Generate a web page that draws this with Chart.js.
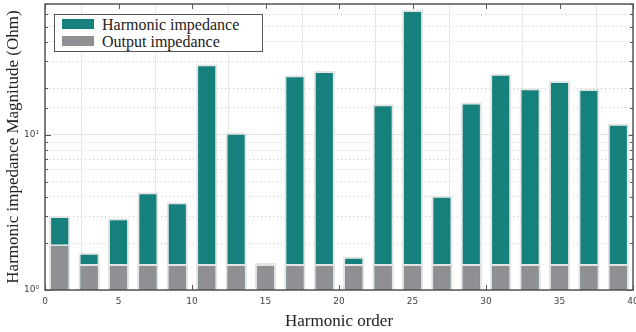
<!DOCTYPE html>
<html>
<head>
<meta charset="utf-8">
<script src="https://cdn.jsdelivr.net/npm/chart.js@4.4.1/dist/chart.umd.min.js"></script>
<style>
  html, body { margin: 0; padding: 0; background: #fff; }
  #wrap { position: relative; width: 636px; height: 332px; overflow: hidden; }
  #legend {
    position: absolute; left: 54px; top: 14px; width: 207px; height: 35px;
    border: 1px solid #555; background: #fff;
    font-family: "Liberation Serif", serif; font-size: 16px; color: #222;
    padding-top: 1px;
  }
  #legend div { height: 17px; line-height: 17px; white-space: nowrap; }
  #legend span.sw { display: inline-block; width: 32px; height: 10px; margin: 0 8px 0 7px; vertical-align: 1px; }
</style>
</head>
<body>
<div id="wrap">
  <canvas id="chart" width="636" height="332"></canvas>
  <div id="legend">
    <div><span class="sw" style="background:#16807d"></span>Harmonic impedance</div>
    <div><span class="sw" style="background:#8f9094"></span>Output impedance</div>
  </div>
</div>
<script>
// harmonic orders (odd harmonics 1..39)
const orders = [1, 3, 5, 7, 9, 11, 13, 15, 17, 19, 21, 23, 25, 27, 29, 31, 33, 35, 37, 39]
// impedance magnitudes in Ohm
const harmonicImp = [3.0, 1.74, 2.9, 4.27, 3.68, 28.6, 10.35, 1.5, 24.3, 25.9, 1.64, 15.8, 64, 4.06, 16.2, 24.8, 20.0, 22.3, 19.8, 11.8]
const outputImp = [1.97, 1.47, 1.47, 1.47, 1.47, 1.47, 1.47, 1.47, 1.47, 1.47, 1.47, 1.47, 1.47, 1.47, 1.47, 1.47, 1.47, 1.47, 1.47, 1.47]

const teal = '#16807d'
const gray = '#8f9094'
const edge = '#e4e4e4'

// matlab style box with inward ticks
const boxPlugin = {
  id: 'box',
  beforeDatasetsDraw(chart) {
    const { ctx, chartArea: a, scales } = chart
    ctx.save()
    ctx.strokeStyle = '#555'
    ctx.lineWidth = 1
    ctx.beginPath()
    scales.x.ticks.forEach(t => {
      const px = Math.round(scales.x.getPixelForValue(t.value)) + 0.5
      ctx.moveTo(px, a.top); ctx.lineTo(px, a.top + 5)
      ctx.moveTo(px, a.bottom); ctx.lineTo(px, a.bottom - 5)
    })
    scales.y.ticks.forEach(t => {
      const py = Math.round(scales.y.getPixelForValue(t.value)) + 0.5
      const len = (t.value === 1 || t.value === 10) ? 6 : 3
      ctx.moveTo(a.left, py); ctx.lineTo(a.left + len, py)
      ctx.moveTo(a.right, py); ctx.lineTo(a.right - len, py)
    })
    ctx.stroke()
    ctx.restore()
  },
  afterDatasetsDraw(chart) {
    const { ctx, chartArea: a } = chart
    ctx.save()
    ctx.strokeStyle = '#555'
    ctx.lineWidth = 1.5
    ctx.strokeRect(a.left, a.top, a.right - a.left, a.bottom - a.top)
    ctx.restore()
  }
}

const ctx = document.getElementById('chart')
new Chart(ctx, {
  type: 'bar',
  data: {
    datasets: [
      {
        label: 'Harmonic impedance',
        data: orders.map((h, i) => ({ x: h, y: harmonicImp[i] })),
        backgroundColor: teal,
        borderColor: edge,
        borderWidth: 2,
        grouped: false,
        order: 2,
      },
      {
        label: 'Output impedance',
        data: orders.map((h, i) => ({ x: h, y: outputImp[i] })),
        backgroundColor: gray,
        borderColor: edge,
        borderWidth: 2,
        grouped: false,
        order: 1,
      },
    ],
  },
  options: {
    responsive: false,
    animation: false,
    barPercentage: 0.72,
    categoryPercentage: 1,
    layout: { padding: { top: 4, right: 3, left: 0, bottom: 0 } },
    plugins: {
      legend: { display: false },
      tooltip: { enabled: false },
    },
    scales: {
      x: {
        type: 'linear',
        min: 0,
        max: 40,
        offset: false,
        ticks: {
          stepSize: 5,
          padding: 6,
          color: '#444',
          font: { family: 'DejaVu Sans', size: 9 },
          maxRotation: 0,
        },
        grid: { color: '#e6e6e6', lineWidth: 1, drawTicks: false },
        border: { display: false },
        title: {
          display: true,
          text: 'Harmonic order',
          color: '#222',
          font: { family: 'Liberation Serif', size: 17 },
          padding: { top: 0, bottom: 0 },
        },
        afterFit(scale) {
          scale.height = 42
          scale.paddingLeft = 0
          scale.paddingRight = 0
        },
      },
      y: {
        type: 'logarithmic',
        min: 1,
        max: 70,
        ticks: {
          autoSkip: false,
          padding: 6,
          color: '#444',
          font: { family: 'DejaVu Sans', size: 9 },
          callback: v => (v === 1 ? '10\u2070' : v === 10 ? '10\u00b9' : ''),
        },
        grid: {
          color: c => (c.tick && (c.tick.value === 1 || c.tick.value === 10) ? '#e2e2e2' : '#c8c8c8'),
          lineWidth: 1,
          drawTicks: false,
        },
        border: {
          display: false,
          dash: c => (c.tick && (c.tick.value === 1 || c.tick.value === 10) ? [] : [1, 3]),
        },
        title: {
          display: true,
          text: 'Harmonic impedance Magnitude (Ohm)',
          color: '#222',
          font: { family: 'Liberation Serif', size: 17 },
          padding: { top: 3, bottom: 0 },
        },
        afterFit(scale) {
          scale.width = 45
          scale.paddingTop = 0
          scale.paddingBottom = 0
        },
      },
    },
  },
  plugins: [boxPlugin],
})
</script>
</body>
</html>
